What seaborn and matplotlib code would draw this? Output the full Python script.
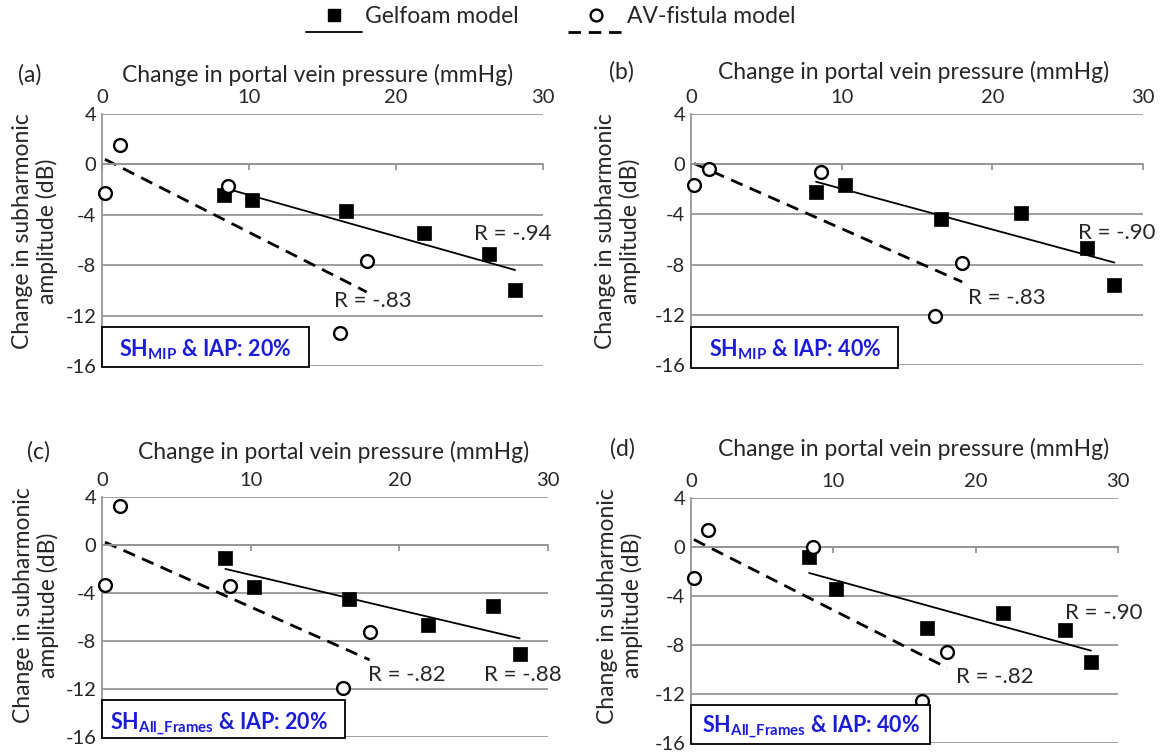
import numpy as np
import pandas as pd
import seaborn as sns
import matplotlib.pyplot as plt
from matplotlib.lines import Line2D
from matplotlib.patches import Rectangle

# change in portal vein pressure (mmHg) - same animals in every panel
gelfoam_pressure = [8.3, 10.2, 16.6, 21.9, 26.3, 28.1]
av_pressure = [0.2, 1.2, 8.6, 18.0, 16.2]

# change in subharmonic amplitude (dB), one list per panel
gelfoam_a = [-2.45, -2.8, -3.7, -5.45, -7.1, -9.97]
av_a = [-2.24, 1.5, -1.73, -7.65, -13.4]
gelfoam_b = [-2.24, -1.65, -4.37, -3.87, -6.64, -9.65]
av_b = [-1.65, -0.37, -0.64, -7.86, -12.1]
gelfoam_c = [-1.06, -3.5, -4.5, -6.68, -5.11, -9.12]
av_c = [-3.3, 3.22, -3.38, -7.26, -11.9]
gelfoam_d = [-0.83, -3.44, -6.64, -5.41, -6.77, -9.36]
av_d = [-2.56, 1.36, 0.0, -8.61, -12.56]

panel_letters = ["(a)", "(b)", "(c)", "(d)"]
box_labels = [r"SH$_{\mathbf{MIP}}$ & IAP: 20%",
              r"SH$_{\mathbf{MIP}}$ & IAP: 40%",
              r"SH$_{\mathbf{All\_Frames}}$ & IAP: 20%",
              r"SH$_{\mathbf{All\_Frames}}$ & IAP: 40%"]
r_gelfoam = ["R = -.94", "R = -.90", "R = -.88", "R = -.90"]
r_av = ["R = -.83", "R = -.83", "R = -.82", "R = -.82"]
x_ticks = [0, 10, 20, 30]
y_ticks = [4, 0, -4, -8, -12, -16]
x_title = "Change in portal vein pressure (mmHg)"
y_title = "Change in subharmonic\namplitude (dB)"

gelfoam_vals = [gelfoam_a, gelfoam_b, gelfoam_c, gelfoam_d]
av_vals = [av_a, av_b, av_c, av_d]

# layout (pixels in a 1166x755 canvas)
W, H = 1166, 755
axes_px = [(102, 114, 543, 366), (691, 114, 1143, 365),
           (102, 497, 548, 737), (691, 498, 1118, 743)]
title_off = [(-5, 39), (-3, 42), (9, 45), (9, 49)]     # px from top centre of axes
letter_off = [-72, -70, -64, -69]                       # px from left edge of axes
r_gel_pos = [(25.3, -5.5), (25.7, -5.5), (25.7, -10.8), (26.25, -5.4)]
r_av_pos = [(15.8, -10.85), (18.4, -10.7), (17.9, -10.8), (18.6, -10.6)]
box_rects = [(0, -0.003, 0.47, 0.159), (0, -0.01, 0.457, 0.16),
             (0, -0.005, 0.545, 0.16), (0, -0.005, 0.56, 0.16)]
box_text_pos = [(0.0385, 0.0635), (0.039, 0.062), (0.018, 0.0525), (0.026, 0.0625)]
ylabel_y = [0.534, 0.534, 0.55, 0.56]
ylabel_x = [-67, -73, -66, -71]

sns.set_style("white")
plt.rcParams["font.family"] = ["Lato", "DejaVu Sans"]
plt.rcParams["mathtext.fontset"] = "custom"
plt.rcParams["mathtext.rm"] = "Lato"
plt.rcParams["mathtext.bf"] = "Lato:bold"
plt.rcParams["axes.unicode_minus"] = False

fs_title = 16.5
fs_tick = 14.5
fs_r = 16
fs_ylab = 16.5
fs_box = 15.5
fs_leg = 16.5
grid_c = "#969696"
blue = "#1c1cd6"
px = 72 / 100   # points per pixel at dpi 100

fig = plt.figure(figsize=(W / 100, H / 100), dpi=100)

for i in range(4):
    l, t, r, b = axes_px[i]
    ax = fig.add_axes([l / W, 1 - b / H, (r - l) / W, (b - t) / H])

    sns.regplot(x=gelfoam_pressure, y=gelfoam_vals[i], ax=ax, scatter=False, ci=None,
                truncate=True, line_kws=dict(color="black", lw=1.3, zorder=2))
    sns.regplot(x=av_pressure, y=av_vals[i], ax=ax, scatter=False, ci=None,
                truncate=True, line_kws=dict(color="black", lw=2.0, ls=(0, (4.5, 2.8)), zorder=2))
    sns.scatterplot(x=gelfoam_pressure, y=gelfoam_vals[i], ax=ax, marker="s", s=105,
                    color="black", edgecolor="black", linewidth=0.5, clip_on=False, zorder=4)
    sns.scatterplot(x=av_pressure, y=av_vals[i], ax=ax, marker="o", s=85,
                    color="white", edgecolor="black", linewidth=1.7, clip_on=False, zorder=4)

    ax.set_xlim(0, 30)
    ax.set_ylim(-16, 4)
    ax.set_xticks(x_ticks)
    ax.set_yticks(y_ticks)
    ax.set_xlabel("")
    ax.grid(axis="y", color=grid_c, lw=1.3)
    ax.grid(axis="x", visible=False)
    ax.spines["top"].set_visible(False)
    ax.spines["right"].set_visible(False)
    ax.spines["left"].set_color(grid_c)
    ax.spines["left"].set_linewidth(1.3)
    ax.spines["bottom"].set_position(("data", 0))
    ax.spines["bottom"].set_color(grid_c)
    ax.spines["bottom"].set_linewidth(1.3)
    ax.tick_params(axis="x", bottom=True, top=False, labelbottom=False, labeltop=True,
                   direction="out", length=4, width=1.3, color=grid_c, pad=2, labelsize=fs_tick)
    ax.tick_params(axis="y", left=False, length=0, pad=4, labelsize=fs_tick)

    ax.set_ylabel(y_title, fontsize=fs_ylab, linespacing=1.15)
    ax.yaxis.label.set_va("center")
    ax.yaxis.set_label_coords(ylabel_x[i] / (r - l), ylabel_y[i])

    dx, dy = title_off[i]
    ax.annotate(x_title, xy=(0.5, 1), xycoords="axes fraction", xytext=(dx * px, dy * px),
                textcoords="offset points", ha="center", va="center", fontsize=fs_title)
    ax.annotate(panel_letters[i], xy=(0, 1), xycoords="axes fraction",
                xytext=(letter_off[i] * px, dy * px),
                textcoords="offset points", ha="center", va="center", fontsize=fs_title)

    ax.text(*r_gel_pos[i], r_gelfoam[i], ha="left", va="center", fontsize=fs_r)
    ax.text(*r_av_pos[i], r_av[i], ha="left", va="center", fontsize=fs_r)

    bx, by, bw, bh = box_rects[i]
    ax.add_patch(Rectangle((bx, by), bw, bh, transform=ax.transAxes, facecolor="white",
                           edgecolor="black", lw=1.3, zorder=5, clip_on=False))
    ax.text(*box_text_pos[i], box_labels[i], transform=ax.transAxes, ha="left", va="center",
            fontsize=fs_box, fontweight="bold", color=blue, zorder=6)

# legend: marker row on top, trend line row below
handles = [Line2D([], [], ls="none", marker="s", ms=9, color="black"),
           Line2D([], [], color="black", lw=1.3),
           Line2D([], [], ls="none", marker="o", ms=8.5, mfc="white", mec="black", mew=1.7),
           Line2D([], [], color="black", lw=2.0, ls=(0, (4.5, 2.8)))]
labels = ["Gelfoam model", "", "AV-fistula model", ""]
fig.legend(handles, labels, ncol=2, loc="center", bbox_to_anchor=(551 / W, 1 - 25 / H),
           frameon=False, fontsize=fs_leg, handlelength=2.45, handletextpad=0.13,
           columnspacing=2.14, labelspacing=-0.15, borderpad=0)

fig.savefig("out.png", dpi=100)
